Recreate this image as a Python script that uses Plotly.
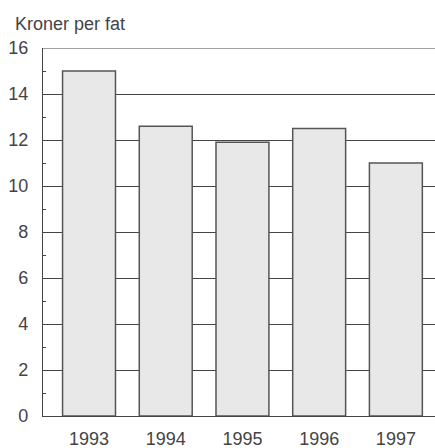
import plotly.graph_objects as go

years = ["1993", "1994", "1995", "1996", "1997"]
values = [15.0, 12.6, 11.9, 12.5, 11.0]
title_text = "Kroner per fat"

W, H = 435, 448
ml, mr, mt, mb = 43, 0, 48, 32

fig = go.Figure(go.Bar(
    x=years, y=values, width=0.69,
    marker=dict(color="#e8e8e8", line=dict(color="#555555", width=1.5)),
))

font = dict(family="Liberation Sans, Arial, sans-serif", size=17, color="#444444")

fig.update_layout(
    width=W, height=H, margin=dict(l=ml, r=mr, t=mt, b=mb),
    paper_bgcolor="white", plot_bgcolor="white",
    showlegend=False, font=font, bargap=0.31,
)
fig.update_xaxes(
    type="category", range=[-0.6, 4.51],
    showline=True, linecolor="#444444", linewidth=1.2,
    ticks="", ticklen=0, showgrid=False, ticklabelstandoff=6,
    tickfont=dict(size=18),
)
fig.update_yaxes(
    range=[0, 16], dtick=2, tick0=0,
    showline=True, linecolor="#444444", linewidth=1.2,
    showgrid=True, gridcolor="#444444", gridwidth=1.2,
    ticks="", ticklen=0, ticklabelstandoff=10, zeroline=False,
    minor=dict(ticks="inside", ticklen=3, dtick=1, tick0=1, tickcolor="#444444", showgrid=False),
    tickfont=dict(size=18),
)
# top frame line at y=16
fig.add_shape(type="line", xref="paper", yref="y", x0=0, x1=1, y0=16, y1=16,
              line=dict(color="#444444", width=1.2), layer="below")
fig.add_annotation(
    text=title_text, xref="paper", yref="paper",
    x=-(ml - 13) / (W - ml - mr), y=1 + 24 / (H - mt - mb),
    xanchor="left", yanchor="middle", showarrow=False,
    font=dict(size=18, color="#444444"),
)
fig.write_html("out.html", config={"displayModeBar": False},
               post_script="document.body.style.margin='0';document.body.style.overflow='hidden';")
